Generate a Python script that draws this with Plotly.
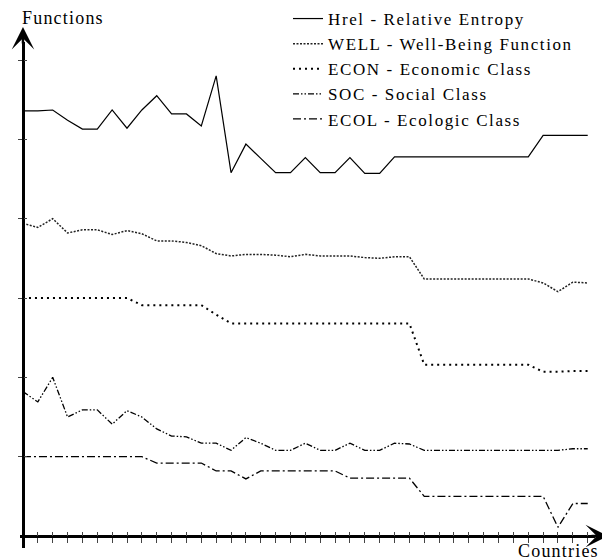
import plotly.graph_objects as go

countries = list(range(39))

hrel = [5.36, 5.36, 5.37, 5.24, 5.13, 5.13, 5.37, 5.14, 5.37, 5.55, 5.32, 5.32, 5.17, 5.80,
        4.58, 4.94, 4.76, 4.58, 4.58, 4.77, 4.58, 4.58, 4.77, 4.57, 4.57,
        4.78, 4.78, 4.78, 4.78, 4.78, 4.78, 4.78, 4.78, 4.78, 4.78,
        5.05, 5.05, 5.05, 5.05]
well = [3.94, 3.89, 4.00, 3.82, 3.86, 3.86, 3.80, 3.85, 3.81, 3.72,
        3.72, 3.70, 3.66, 3.56, 3.53, 3.55, 3.55, 3.54, 3.52, 3.55,
        3.53, 3.53, 3.53, 3.51, 3.50, 3.52, 3.52,
        3.24, 3.24, 3.24, 3.24, 3.24, 3.24, 3.24, 3.24,
        3.19, 3.08, 3.20, 3.19]
econ = [3.00] * 8 + [2.91] * 5 + [2.79] + [2.68] * 13 + [2.16] * 8 + [2.07, 2.07, 2.08, 2.08]
soc = [1.82, 1.69, 2.00, 1.50, 1.59, 1.59, 1.41, 1.58, 1.50, 1.35,
       1.26, 1.25, 1.17, 1.17, 1.08, 1.24, 1.17, 1.08, 1.08, 1.17,
       1.08, 1.08, 1.17, 1.08, 1.08, 1.17, 1.16, 1.08, 1.08, 1.08,
       1.08, 1.08, 1.08, 1.08, 1.08, 1.08, 1.08, 1.10, 1.10]
ecol = [1.00] * 9 + [0.92] * 4 + [0.82] * 2 + [0.72] + [0.82] * 6 + [0.73] * 5 + [0.50] * 9 + [0.11, 0.41, 0.41]

names = ["Hrel - Relative Entropy", "WELL - Well-Being Function", "ECON - Economic Class",
         "SOC - Social Class", "ECOL - Ecologic Class"]
x_ticks = list(range(1, 39))
y_ticks = [1, 2, 3, 4, 5, 6]

FONT = "Liberation Serif, Times New Roman, serif"


def sp(t, ls=1.2):
    return f'<span style="letter-spacing:{ls}px">{t}</span>'


styles = [
    dict(color="black", width=1.2, dash="solid"),
    dict(color="#222222", width=1.5, dash="2px,1.5px"),
    dict(color="black", width=2, dash="2px,4px"),
    dict(color="black", width=1.3, dash="6px,2px,1.5px,2px,1.5px,2px"),
    dict(color="black", width=1.3, dash="8px,3px,2px,3px"),
]

fig = go.Figure()
for name, vals, st in zip(names, [hrel, well, econ, soc, ecol], styles):
    fig.add_trace(go.Scatter(x=countries, y=vals, mode="lines", name=sp(name, 1.6), line=st,
                             cliponaxis=False))

# invisible trace for the overlay axes (inner half of crossing ticks)
fig.add_trace(go.Scatter(x=[0], y=[0], xaxis="x2", yaxis="y2", mode="markers",
                         marker=dict(opacity=0), showlegend=False, hoverinfo="skip"))

# the page body adds an 8px offset, so work in figure pixels = reference pixels - 8
W, H = 602, 552
L, R, T, B = 12, 15, 34, 12
pw = W - L - R
ph = H - T - B
xr = [-0.2, 38.49]
yr = [-0.151, 6.227]
ypos0 = (0 - yr[0]) / (yr[1] - yr[0])
xpos0 = (0 - xr[0]) / (xr[1] - xr[0])


def px(xp):
    return (xp - L) / pw


def py(yp):
    return (H - B - yp) / ph


axcommon = dict(showgrid=False, zeroline=False, showticklabels=False)
fig.update_layout(
    width=W, height=H,
    margin=dict(l=L, r=R, t=T, b=B, autoexpand=False),
    paper_bgcolor="white", plot_bgcolor="white",
    font=dict(family=FONT, size=18, color="black"),
    xaxis=dict(range=xr, anchor="free", position=ypos0, showline=True, linewidth=2.5,
               linecolor="black", ticks="outside", ticklen=5, tickwidth=1.2,
               tickvals=x_ticks, **axcommon),
    yaxis=dict(range=yr, anchor="free", position=xpos0, showline=True, linewidth=2.5,
               linecolor="black", ticks="outside", ticklen=4, tickwidth=1.2,
               tickvals=y_ticks, **axcommon),
    xaxis2=dict(range=xr, overlaying="x", anchor="free", position=ypos0, showline=False,
                ticks="inside", ticklen=4, tickwidth=1.2, tickvals=x_ticks, **axcommon),
    yaxis2=dict(range=yr, overlaying="y", anchor="free", position=xpos0, showline=False,
                ticks="inside", ticklen=3, tickwidth=1.2, tickvals=y_ticks, **axcommon),
    legend=dict(x=px(280), y=py(-7), xanchor="left", yanchor="top",
                bgcolor="rgba(0,0,0,0)", borderwidth=0,
                font=dict(family=FONT, size=17, color="black"), itemwidth=30),
    showlegend=True,
)

# axis arrows
fig.add_annotation(xref="paper", yref="paper", x=xpos0, y=py(19),
                   ax=0, ay=18, text="", showarrow=True,
                   arrowhead=3, arrowsize=1.5, arrowwidth=2.5, arrowcolor="black")
fig.add_annotation(xref="paper", yref="paper", x=px(600), y=ypos0,
                   ax=-18, ay=0, text="", showarrow=True,
                   arrowhead=3, arrowsize=1.5, arrowwidth=2.5, arrowcolor="black")

fig.add_annotation(xref="paper", yref="paper", x=px(12), y=py(10), xanchor="left",
                   yanchor="middle", text=sp("Functions"), showarrow=False,
                   font=dict(family=FONT, size=18, color="black"))
fig.add_annotation(xref="paper", yref="paper", x=px(593), y=py(543),
                   xanchor="right", yanchor="middle", text=sp("Countries"), showarrow=False,
                   font=dict(family=FONT, size=18, color="black"))

fig.write_html("out.html")
